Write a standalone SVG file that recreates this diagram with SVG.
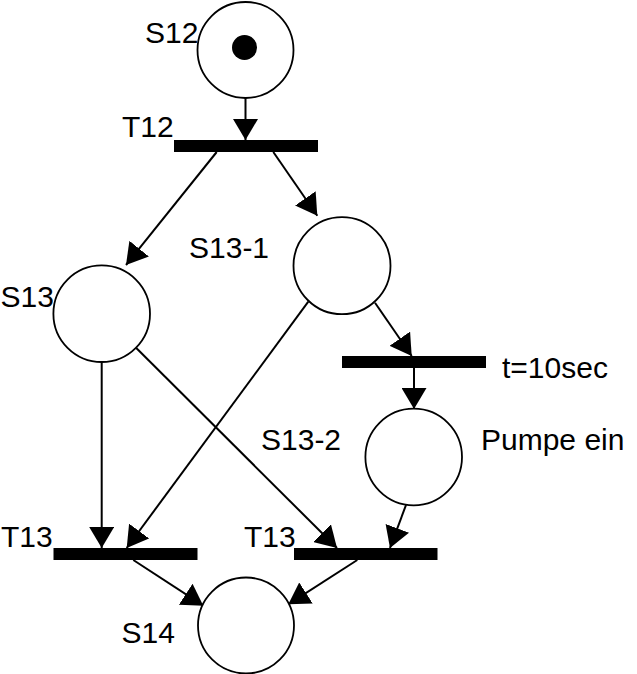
<svg xmlns="http://www.w3.org/2000/svg" width="637" height="674" viewBox="0 0 637 674">
<style>
.place{fill:#fff;stroke:#000;stroke-width:1.8}
.bar{fill:#000}
.lbl{font-family:"Liberation Sans",Arial,sans-serif;font-size:30px;fill:#000}
.arc{stroke:#000;stroke-width:2;fill:none;marker-end:url(#ah)}
</style>
<defs>
<marker id="ah" markerUnits="userSpaceOnUse" viewBox="0 0 21 25" markerWidth="21" markerHeight="25" refX="21" refY="12.5" orient="auto">
<path d="M0,0 L21,12.5 L0,25 z" fill="#000"/>
</marker>
</defs>
<rect width="637" height="674" fill="#fff"/>
<g id="connectors">
<line class="arc" x1="245.5" y1="98" x2="245.5" y2="140"/>
<line class="arc" x1="216.7" y1="152" x2="126" y2="265"/>
<line class="arc" x1="273.3" y1="152" x2="317.3" y2="215.7"/>
<line class="arc" x1="375" y1="302.7" x2="411.7" y2="356"/>
<line class="arc" x1="414" y1="368" x2="414" y2="409"/>
<line class="arc" x1="101.7" y1="362" x2="101.7" y2="548"/>
<line class="arc" x1="308.3" y1="301.7" x2="126.7" y2="548"/>
<line class="arc" x1="135" y1="346.7" x2="337" y2="548"/>
<line class="arc" x1="406" y1="505" x2="390" y2="548"/>
<line class="arc" x1="133.3" y1="560" x2="203.3" y2="605.7"/>
<line class="arc" x1="357.3" y1="560" x2="288.3" y2="604.3"/>
</g>
<g id="S12">
<circle class="place" cx="245.5" cy="50" r="48"/>
<circle cx="244.5" cy="47.5" r="12.5" fill="#000"/>
<text class="lbl" x="145" y="43">S12</text>
</g>
<g id="T12">
<rect class="bar" x="174" y="140" width="144" height="12"/>
<text class="lbl" x="122" y="137">T12</text>
</g>
<g id="S13">
<circle class="place" cx="101.7" cy="313.7" r="48.3"/>
<text class="lbl" x="0.5" y="307">S13</text>
</g>
<g id="S13-1">
<circle class="place" cx="342" cy="265.7" r="48.5"/>
<text class="lbl" x="189" y="258">S13-1</text>
</g>
<g id="T10sec">
<rect class="bar" x="342" y="356" width="144" height="12"/>
<text class="lbl" x="502" y="378">t=10sec</text>
</g>
<g id="S13-2">
<circle class="place" cx="413.7" cy="457" r="48.3"/>
<text class="lbl" x="261" y="450">S13-2</text>
<text class="lbl" x="481" y="450">Pumpe ein</text>
</g>
<g id="T13-left">
<rect class="bar" x="53.5" y="548" width="144" height="12"/>
<text class="lbl" x="1" y="547">T13</text>
</g>
<g id="T13-right">
<rect class="bar" x="294" y="548" width="143.5" height="12"/>
<text class="lbl" x="244" y="547">T13</text>
</g>
<g id="S14">
<circle class="place" cx="246" cy="625.5" r="48"/>
<text class="lbl" x="121.5" y="643">S14</text>
</g>
</svg>
